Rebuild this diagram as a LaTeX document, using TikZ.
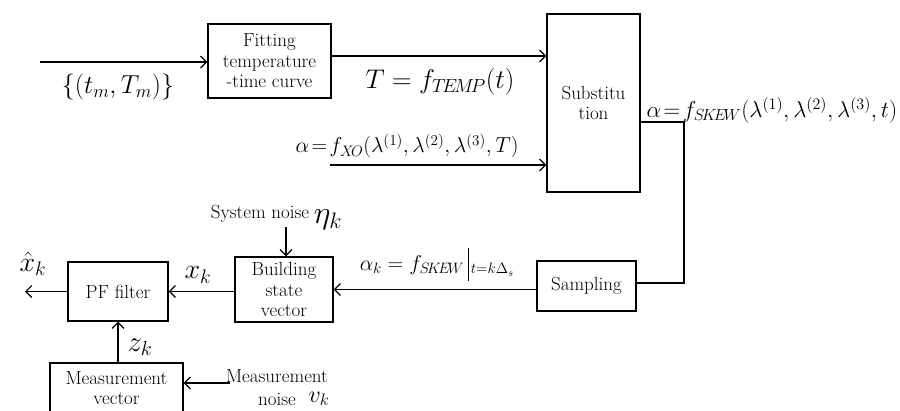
\RequirePackage{fix-cm}
\documentclass[tikz,border=0pt]{standalone}
\usetikzlibrary{arrows.meta}
\begin{document}
\begin{tikzpicture}[x=1pt,y=-1pt,
  blk/.style={draw, line width=1.2pt, align=center, inner sep=0pt, font=\fontsize{19}{20.5}\selectfont},
  conn/.style={line width=1.2pt},
  arr/.style={conn, -{Straight Barb[length=6pt,width=12pt,line width=1.2pt]}},
  lbl/.style={inner sep=0pt},
  txt/.style={inner sep=0pt, font=\fontsize{19}{20}\selectfont}]
\useasboundingbox (0,0) rectangle (900,410);
\clip (0,0) rectangle (900,410);
% blocks
\node[blk, minimum width=123pt, minimum height=74pt] (fit) at (269.5,61) {Fitting\\temperature\\-time curve};
\node[blk, minimum width=93pt, minimum height=178pt] (sub) at (593.5,103) {Substitu\\tion};
\node[blk, minimum width=99pt, minimum height=50pt] (samp) at (586.5,286) {Sampling};
\node[blk, minimum width=98pt, minimum height=65pt] (build) at (284,289.5) {Building\\state\\vector};
\node[blk, minimum width=100pt, minimum height=59pt] (pf) at (118,291.5) {PF filter};
\node[blk, minimum width=133pt, minimum height=50pt] (meas) at (116.5,388) {Measurement\\vector};
% free ends
\coordinate (in) at (40,62);
\coordinate (y56) at (0,56);
\coordinate (xo) at (330,165);
\coordinate (c1) at (684,122);
\coordinate (c2) at (684,283);
\coordinate (eta) at (286,227);
\coordinate (out) at (25,291.5);
\coordinate (vn) at (230,383);
% connectors
\draw[arr] (in) -- (in -| fit.west);
\draw[arr] (fit.east |- y56) -- (sub.west |- y56);
\draw[arr] (xo) -- (xo -| sub.west);
\draw[conn] (sub.east |- c1) -- (c1) -- (c2) -- (samp.east |- c2);
\draw[arr] (samp.west |- build.east) -- (build.east);
\draw[arr] (build.west |- pf.east) -- (pf.east);
\draw[arr] (pf.west) -- (out);
\draw[arr] (eta) -- (eta |- build.north);
\draw[arr] (pf.south |- meas.north) -- (pf.south);
\draw[arr] (vn) -- (vn -| meas.east);
% labels
\node[lbl, font=\fontsize{26}{26}\selectfont] (lin) at (118,87) {$\{(t_m,T_m)\}$};
\node[lbl, font=\fontsize{27}{27}\selectfont] (ltemp) at (440,82) {$T=f_{T\!E\!M\!P}(t)$};
\node[lbl, font=\fontsize{21.7}{22}\selectfont] (lxo) at (407,146) {$\alpha\!=\!f_{X\!O}(\lambda^{(1)},\lambda^{(2)},\lambda^{(3)},T)$};
\node[lbl, font=\fontsize{23}{23}\selectfont] (lskew) at (772,110) {$\alpha\!=\!f_{S\!K\!E\!W}(\lambda^{(1)},\lambda^{(2)},\lambda^{(3)},t)$};
\node[lbl, font=\fontsize{21.5}{22}\selectfont] (lak) at (437,266) {$\alpha_k=f_{S\!K\!E\!W}\,{\smash{\rule[-10pt]{0.8pt}{33pt}}}_{\,t=k\Delta_s}$};
\node[lbl, font=\fontsize{28}{28}\selectfont] (lxh) at (33,264) {$\hat{x}_k$};
\node[lbl, font=\fontsize{28}{28}\selectfont] (lx) at (198,275) {$x_k$};
\node[txt] (sn) at (260,214) {System noise};
\node[lbl, font=\fontsize{32}{32}\selectfont] (leta) at (328,220) {$\eta_k$};
\node[lbl, font=\fontsize{29}{29}\selectfont] (lz) at (140,347) {$z_k$};
\node[txt] (mn1) at (277,376) {Measurement};
\node[txt] (mn2) at (277,399) {noise};
\node[lbl, font=\fontsize{24}{24}\selectfont] (lv) at (319,399) {$v_k$};
\end{tikzpicture}
\end{document}
